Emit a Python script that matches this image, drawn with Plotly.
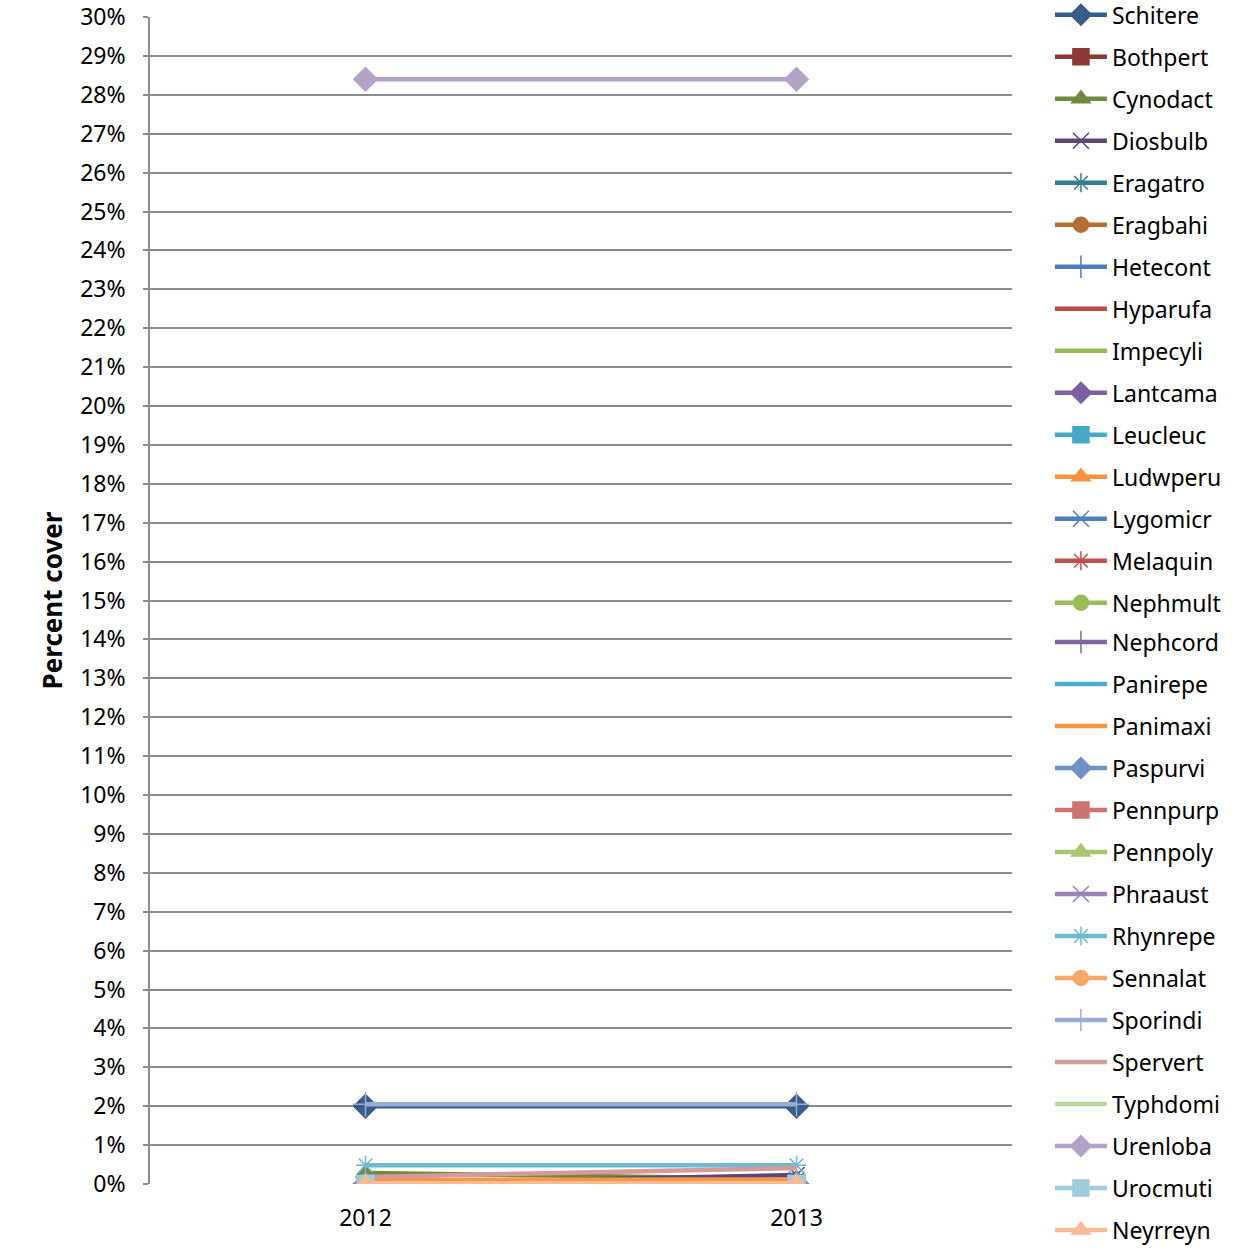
import plotly.graph_objects as go

years = ["2012", "2013"]

species = ["Schitere", "Bothpert", "Cynodact", "Diosbulb", "Eragatro", "Eragbahi",
           "Hetecont", "Hyparufa", "Impecyli", "Lantcama", "Leucleuc", "Ludwperu",
           "Lygomicr", "Melaquin", "Nephmult", "Nephcord", "Panirepe", "Panimaxi",
           "Paspurvi", "Pennpurp", "Pennpoly", "Phraaust", "Rhynrepe", "Sennalat",
           "Sporindi", "Spervert", "Typhdomi", "Urenloba", "Urocmuti", "Neyrreyn"]

Schitere = [2.0, 2.0]
Bothpert = [0.0, 0.0]
Cynodact = [0.28, 0.13]
Diosbulb = [0.0, 0.23]
Eragatro = [0.0, 0.0]
Eragbahi = [0.0, 0.0]
Hetecont = [0.0, 0.0]
Hyparufa = [0.0, 0.0]
Impecyli = [0.0, 0.0]
Lantcama = [0.0, 0.0]
Leucleuc = [0.0, 0.0]
Ludwperu = [0.0, 0.0]
Lygomicr = [0.08, 0.1]
Melaquin = [0.0, 0.0]
Nephmult = [0.0, 0.0]
Nephcord = [0.0, 0.0]
Panirepe = [0.0, 0.0]
Panimaxi = [0.1, 0.12]
Paspurvi = [0.0, 0.0]
Pennpurp = [0.0, 0.0]
Pennpoly = [0.0, 0.0]
Phraaust = [0.0, 0.0]
Rhynrepe = [0.48, 0.48]
Sennalat = [0.0, 0.0]
Sporindi = [2.05, 2.05]
Spervert = [0.18, 0.41]
Typhdomi = [0.0, 0.0]
Urenloba = [28.4, 28.4]
Urocmuti = [0.0, 0.0]
Neyrreyn = [0.02, 0.02]

values = [Schitere, Bothpert, Cynodact, Diosbulb, Eragatro, Eragbahi,
          Hetecont, Hyparufa, Impecyli, Lantcama, Leucleuc, Ludwperu,
          Lygomicr, Melaquin, Nephmult, Nephcord, Panirepe, Panimaxi,
          Paspurvi, Pennpurp, Pennpoly, Phraaust, Rhynrepe, Sennalat,
          Sporindi, Spervert, Typhdomi, Urenloba, Urocmuti, Neyrreyn]

colors = ["#385D8A", "#8C3836", "#71893F", "#5C4776", "#357D91", "#B66D31",
          "#4A7EBB", "#BE4B48", "#98B954", "#7D60A0", "#46AAC5", "#F69240",
          "#4F7FC0", "#C0504D", "#9BBB59", "#8064A2", "#4BACC6", "#F79646",
          "#7092C8", "#CD7371", "#A9C673", "#9983B5", "#6DBBD0", "#F9A669",
          "#97ADD6", "#D59B9A", "#BFD5A0", "#B2A4C7", "#9ECCDA", "#F9BB94"]

marker_cycle = ["diamond", "square", "triangle-up", "x-thin-open", "asterisk-open",
                "circle", "cross-thin-open", None, None]
size_cycle = [18, 17, 17, 16, 16, 15, 18, 0, 0]

fig = go.Figure()
for i, (name, vals) in enumerate(zip(species, values)):
    sym = marker_cycle[i % 9]
    col = colors[i]
    if sym is None:
        mode = "lines"
        marker = dict()
    else:
        mode = "lines+markers"
        marker = dict(symbol=sym, size=size_cycle[i % 9], color=col,
                      line=dict(color=col, width=1.5))
    fig.add_trace(go.Scatter(
        x=years, y=vals, name=name, mode=mode,
        line=dict(color=col, width=4.5),
        marker=marker, legendgroup=name,
        legend="legend" if i < 15 else "legend2",
    ))

font_family = "Noto Sans, Open Sans, Arial, sans-serif"

legend_common = dict(
    xanchor="left", yanchor="top",
    font=dict(size=23, family=font_family, color="black"),
    tracegroupgap=9.1, traceorder="grouped",
    itemwidth=52, bgcolor="rgba(0,0,0,0)", borderwidth=0,
    maxheight=900,
)

fig.update_layout(
    width=1246, height=1250,
    margin=dict(l=150, r=234, t=17, b=66, autoexpand=False),
    plot_bgcolor="white", paper_bgcolor="white",
    font=dict(family=font_family, size=23, color="black"),
    showlegend=True,
    legend=dict(x=1.044, y=1.0203, **legend_common),
    legend2=dict(x=1.044, y=0.4828, **legend_common),
    xaxis=dict(
        type="category", range=[-0.5, 1.5], showgrid=False,
        showline=False, ticks="", zeroline=False,
        tickfont=dict(size=23), ticklabelstandoff=18,
    ),
    yaxis=dict(
        range=[0, 30], dtick=1, ticksuffix="%",
        showgrid=True, gridcolor="#8C8C8C", gridwidth=1.5,
        showline=True, linecolor="#8C8C8C", linewidth=1.5,
        ticks="outside", ticklen=5, tickcolor="#8C8C8C", tickwidth=1.5,
        zeroline=False, ticklabelstandoff=13,
        tickfont=dict(size=23),
        title=dict(text="<b>Percent cover</b>", font=dict(size=26), standoff=10),
    ),
)

fig.write_html("out.html")
